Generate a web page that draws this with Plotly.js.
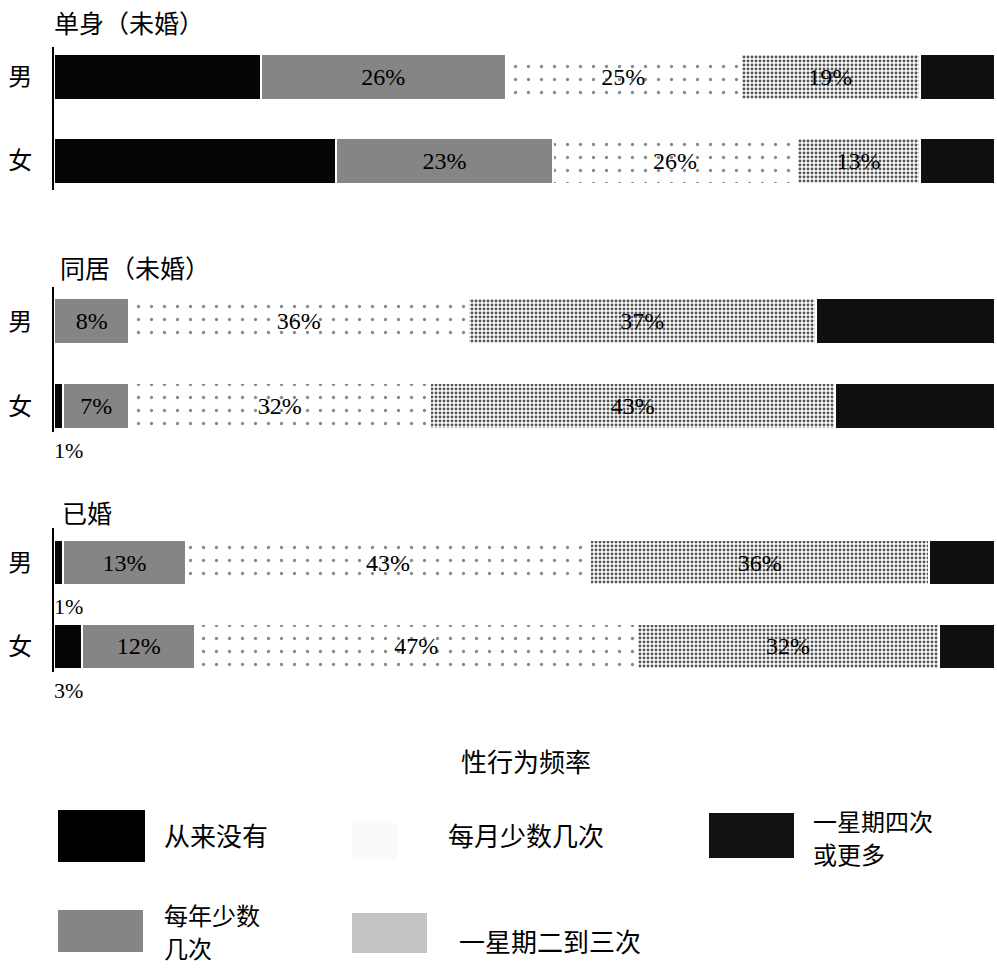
<!DOCTYPE html>
<html>
<head>
<meta charset="utf-8">
<script src="https://cdn.plot.ly/plotly-3.0.1.min.js"></script>
<style>html,body{margin:0;padding:0;background:#fff;}</style>
</head>
<body>
<div id="chart" style="width:997px;height:969px;"></div>
<script>
// ---- data ----
const groups = ['单身（未婚）', '同居（未婚）', '已婚'];
const sexes = ['男', '女'];
const categories = ['从来没有', '每年少数几次', '每月少数几次', '一星期二到三次', '一星期四次或更多'];
const legendLabels = [['从来没有'], ['每年少数', '几次'], ['每月少数几次'], ['一星期二到三次'], ['一星期四次', '或更多']];
const legendTitle = '性行为频率';
// order: 单身男, 单身女, 同居男, 同居女, 已婚男, 已婚女
const never        = [22, 30, 0, 1, 1, 3];
const fewPerYear   = [26, 23, 8, 7, 13, 12];
const fewPerMonth  = [25, 26, 36, 32, 43, 47];
const twoThreeWeek = [19, 13, 37, 43, 36, 32];
const fourPlusWeek = [8, 8, 19, 17, 7, 6];
const series = [never, fewPerYear, fewPerMonth, twoThreeWeek, fourPlusWeek];

// ---- styles ----
const H = 969;
const cjk = 'Noto Sans CJK SC, sans-serif';
const serif = 'Liberation Serif, Times New Roman, serif';
const styles = [
  {color: '#050505', pattern: null, showText: false, swatch: '#000000'},
  {color: '#858585', pattern: null, showText: true, swatch: '#858585'},
  {color: '#ffffff', pattern: {shape: '.', fgcolor: '#8a8a8a', size: 13, solidity: 0.05}, showText: true, swatch: '#fafafa'},
  {color: '#ffffff', pattern: {shape: '.', fgcolor: '#555555', size: 4, solidity: 0.42}, showText: true, swatch: '#c4c4c4'},
  {color: '#101010', pattern: null, showText: false, swatch: '#111111'}
];
const groupDomains = [[1 - 190 / H, 1 - 47 / H], [1 - 432 / H, 1 - 287 / H], [1 - 672 / H, 1 - 528 / H]];
const groupRanges = [[-0.345, 1.357], [-0.3, 1.4], [-0.31, 1.42]];
const groupTitlePos = [[52, 22], [58, 267], [60, 512]];

const traces = [];
series.forEach((vals, ci) => {
  groups.forEach((g, gi) => {
    const xv = [vals[2 * gi], vals[2 * gi + 1]];
    const st = styles[ci];
    const marker = {color: st.color, line: {color: '#ffffff', width: 2}};
    if (st.pattern) marker.pattern = Object.assign({bgcolor: st.color}, st.pattern);
    traces.push({
      type: 'bar', orientation: 'h',
      name: categories[ci],
      x: xv, y: sexes,
      xaxis: gi === 0 ? 'x' : 'x' + (gi + 1),
      yaxis: gi === 0 ? 'y' : 'y' + (gi + 1),
      marker: marker,
      text: st.showText ? xv.map(v => v + '%') : xv.map(() => ''),
      textposition: 'inside', insidetextanchor: 'middle', textangle: 0,
      constraintext: 'none',
      textfont: {family: serif, size: 24, color: '#000'},
      hoverinfo: 'skip', showlegend: false
    });
  });
});

const layout = {
  width: 997, height: 969,
  margin: {l: 54, r: 2, t: 0, b: 0},
  paper_bgcolor: '#fff', plot_bgcolor: '#fff',
  barmode: 'stack', bargap: 0.46,
  showlegend: false,
  annotations: [], shapes: []
};
groups.forEach((g, gi) => {
  const xa = gi === 0 ? 'xaxis' : 'xaxis' + (gi + 1);
  const ya = gi === 0 ? 'yaxis' : 'yaxis' + (gi + 1);
  layout[xa] = {domain: [0, 1], range: [0, 100], visible: false, fixedrange: true,
                anchor: gi === 0 ? 'y' : 'y' + (gi + 1)};
  layout[ya] = {domain: groupDomains[gi], type: 'category', categoryorder: 'array',
                categoryarray: ['女', '男'], range: groupRanges[gi],
                showline: true, linecolor: '#000', linewidth: 2, ticks: '',
                showgrid: false, zeroline: false, fixedrange: true,
                tickfont: {family: cjk, size: 24, color: '#000'}, ticklabelstandoff: 15,
                anchor: gi === 0 ? 'x' : 'x' + (gi + 1)};
  layout.annotations.push({
    xref: 'paper', yref: 'paper',
    x: (groupTitlePos[gi][0] - 54) / (997 - 56), y: 1 - groupTitlePos[gi][1] / H,
    xanchor: 'left', yanchor: 'middle', showarrow: false,
    text: g, font: {family: cjk, size: 25, color: '#000'}
  });
  // small "never" values labelled under the bar
  [0, 1].forEach(si => {
    const v = never[2 * gi + si];
    if (v > 0 && v < 5) {
      layout.annotations.push({
        xref: gi === 0 ? 'x' : 'x' + (gi + 1), yref: gi === 0 ? 'y' : 'y' + (gi + 1),
        x: 0, y: sexes[si], xanchor: 'left', yanchor: 'middle', xshift: -2, yshift: -44,
        showarrow: false, text: v + '%', font: {family: serif, size: 22, color: '#000'}
      });
    }
  });
});

// legend (drawn in paper space)
const px = x => (x - 54) / (997 - 56);
const py = y => 1 - y / H;
layout.annotations.push({xref: 'paper', yref: 'paper', x: px(526), y: py(760),
  xanchor: 'center', yanchor: 'middle', showarrow: false, text: legendTitle,
  font: {family: cjk, size: 26, color: '#000'}});
const legendBoxes = [
  {x0: 58, x1: 145, y0: 810, y1: 862, tx: 163, ty: 834},
  {x0: 58, x1: 143, y0: 910, y1: 952, tx: 163, ty: 931},
  {x0: 352, x1: 397, y0: 823, y1: 860, tx: 447, ty: 834},
  {x0: 352, x1: 427, y0: 913, y1: 953, tx: 458, ty: 940},
  {x0: 709, x1: 794, y0: 813, y1: 858, tx: 812, ty: 837}
];
categories.forEach((c, ci) => {
  const b = legendBoxes[ci];
  layout.shapes.push({type: 'rect', xref: 'paper', yref: 'paper',
    x0: px(b.x0), x1: px(b.x1), y0: py(b.y1), y1: py(b.y0),
    fillcolor: styles[ci].swatch, line: {width: 0}});
  const lines = legendLabels[ci];
  const step = 33;
  lines.forEach((ln, li) => {
    const yy = b.ty + (li - (lines.length - 1) / 2) * step;
    layout.annotations.push({xref: 'paper', yref: 'paper', x: px(b.tx), y: py(yy),
      xanchor: 'left', yanchor: 'middle', align: 'left', showarrow: false,
      borderpad: 0,
      text: ln, font: {family: cjk, size: lines.length > 1 ? 24 : 26, color: '#000'}});
  });
});

Plotly.newPlot('chart', traces, layout, {staticPlot: true, displayModeBar: false});
</script>
</body>
</html>
